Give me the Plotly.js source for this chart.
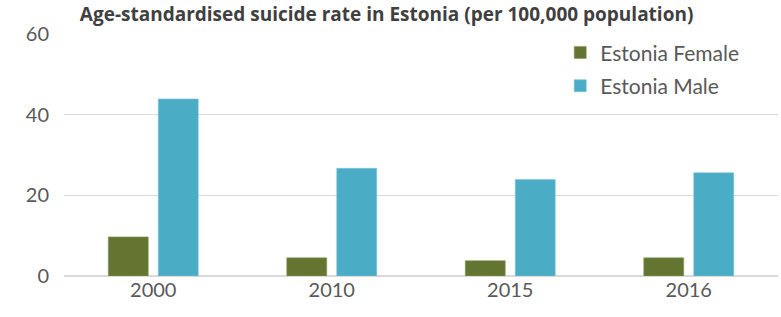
<!DOCTYPE html>
<html><head><meta charset="utf-8">
<script src="https://cdn.plot.ly/plotly-3.0.1.min.js"></script>
<style>html,body{margin:0;padding:0;background:#fff}#chart{width:781px;height:317px}</style>
</head><body><div id="chart"></div>
<script>
const years = ['2000', '2010', '2015', '2016'];
const femaleValues = [9.7, 4.5, 3.8, 4.5];
const maleValues = [43.9, 26.7, 23.9, 25.6];
const seriesNames = ['Estonia Female', 'Estonia Male'];
const yTicks = [0, 20, 40, 60];

const traces = [
  {type: 'bar', name: seriesNames[0], x: years, y: femaleValues, legendgroup: 'f',
   marker: {color: '#637530', line: {color: '#8a9a62', width: 0.6}}},
  {type: 'bar', name: seriesNames[1], x: years, y: maleValues, legendgroup: 'm',
   marker: {color: '#4BACC6', line: {color: '#7cc4d6', width: 0.6}}}
];
const layout = {
  width: 781, height: 317,
  margin: {l: 64, r: 3, t: 34, b: 41},
  paper_bgcolor: '#fff', plot_bgcolor: '#fff',
  font: {family: 'Lato, "Open Sans", sans-serif', color: '#595959', size: 20},
  title: {text: '<b>Age-standardised suicide rate in Estonia (per 100,000 population)</b>',
          font: {size: 19, color: '#404040', family: '"Open Sans", sans-serif'},
          x: 0.495, xanchor: 'center', y: 0.955, yanchor: 'middle'},
  barmode: 'group', bargap: 0.44, bargroupgap: 0.2,
  xaxis: {type: 'category', showgrid: false, showline: false, ticks: '',
          tickfont: {size: 20, color: '#595959'}},
  yaxis: {range: [0, 60], tickvals: yTicks, showgrid: true, gridcolor: '#d9d9d9', gridwidth: 1.5,
          zeroline: true, zerolinecolor: '#d9d9d9', zerolinewidth: 1.5,
          ticks: '', ticklabelstandoff: 14, tickfont: {size: 20, color: '#595959'}},
  legend: {x: 0.695, y: 1.007, xanchor: 'left', yanchor: 'top', bgcolor: 'rgba(0,0,0,0)',
           font: {size: 21, color: '#595959'}, itemwidth: 30, tracegroupgap: 3},
  showlegend: true
};
Plotly.newPlot('chart', traces, layout, {displayModeBar: false, staticPlot: true});
</script></body></html>
